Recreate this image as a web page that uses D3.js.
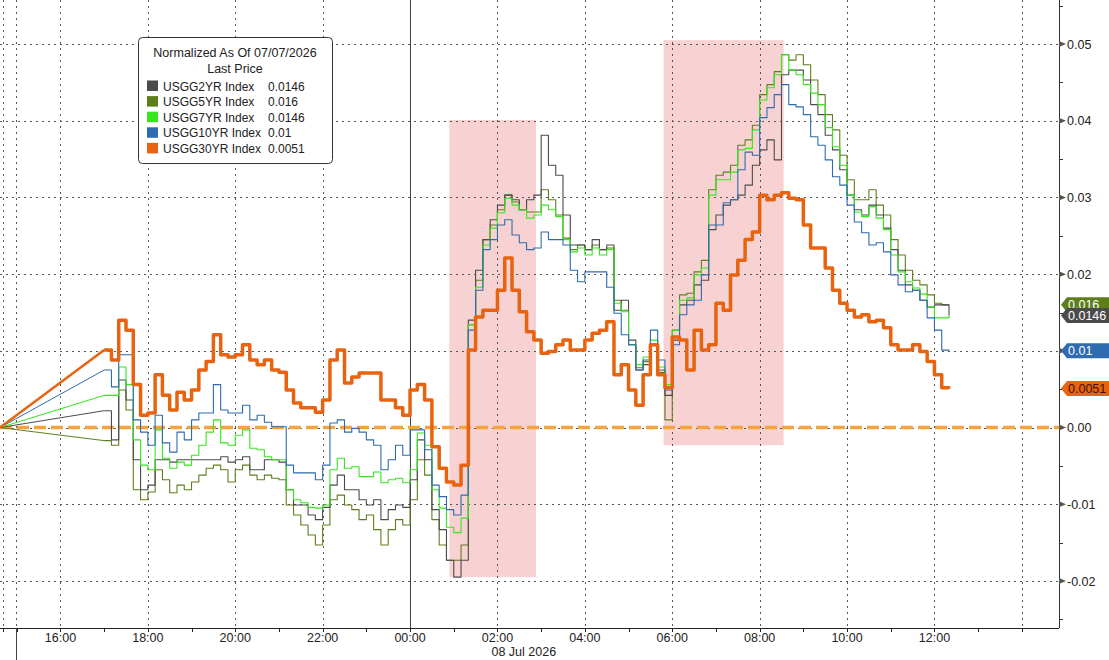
<!DOCTYPE html>
<html>
<head>
<meta charset="utf-8">
<style>
  body { margin: 0; background: #fff; }
  text { font-family: "Liberation Sans", Arial, sans-serif; }
</style>
</head>
<body>
<script src="https://d3js.org/d3.v7.min.js"></script>
<script>
// ---- DATA (normalized yield change vs 07/07/2026 close) ----
// one value every 10 minutes from 17:00 on 07 Jul to 12:20 on 08 Jul
const startTime = new Date(2026, 6, 7, 17, 0);
const stepMinutes = 10;
const anchorTime = new Date(2026, 6, 7, 14, 37); // normalization point, value 0

const usgg2 = [0.0022,-0.0016,0.0062,0.0036,-0.0042,-0.0081,-0.0075,-0.0042,-0.0042,-0.0045,
  -0.0042,-0.0042,-0.0042,-0.0042,-0.0042,-0.0042,-0.0038,-0.0045,-0.0042,-0.0038,
  -0.0055,-0.0055,-0.0042,-0.0042,-0.0045,-0.0081,-0.0101,-0.0101,-0.0114,-0.0120,
  -0.0104,-0.0075,-0.0062,-0.0081,-0.0081,-0.0094,-0.0101,-0.0094,-0.0120,-0.0107,
  -0.0101,-0.0104,-0.0068,-0.0016,-0.0042,-0.0107,-0.0133,-0.0173,-0.0195,-0.0173,
  0.0140,0.0205,0.0245,0.0271,0.0290,0.0303,0.0297,0.0284,0.0297,0.0303,
  0.0381,0.0342,0.0329,0.0277,0.0238,0.0238,0.0232,0.0245,0.0232,0.0238,
  0.0153,0.0166,0.0114,0.0075,0.0082,0.0108,0.0075,0.0042,0.0114,0.0160,
  0.0166,0.0186,0.0192,0.0258,0.0277,0.0290,0.0297,0.0303,0.0316,0.0342,
  0.0362,0.0375,0.0349,0.0460,0.0466,0.0466,0.0453,0.0421,0.0408,0.0381,
  0.0362,0.0336,0.0303,0.0284,0.0277,0.0290,0.0277,0.0260,0.0232,0.0205,
  0.0186,0.0179,0.0166,0.0157,0.0160,0.0160,0.0146];

const usgg5 = [-0.0017,-0.0023,0.0049,0.0023,-0.0081,-0.0094,-0.0084,-0.0055,-0.0068,-0.0085,
  -0.0075,-0.0081,-0.0071,-0.0062,-0.0053,-0.0049,-0.0055,-0.0071,-0.0055,-0.0049,
  -0.0062,-0.0068,-0.0062,-0.0066,-0.0068,-0.0101,-0.0114,-0.0127,-0.0140,-0.0153,
  -0.0127,-0.0094,-0.0088,-0.0101,-0.0107,-0.0120,-0.0114,-0.0133,-0.0153,-0.0133,
  -0.0120,-0.0127,-0.0094,-0.0042,-0.0062,-0.0120,-0.0153,-0.0173,-0.0173,-0.0153,
  0.0134,0.0192,0.0245,0.0264,0.0284,0.0303,0.0294,0.0284,0.0281,0.0281,
  0.0310,0.0297,0.0277,0.0247,0.0232,0.0238,0.0232,0.0238,0.0232,0.0234,
  0.0166,0.0153,0.0108,0.0078,0.0086,0.0108,0.0072,0.0010,0.0127,0.0173,
  0.0175,0.0203,0.0218,0.0310,0.0329,0.0333,0.0342,0.0368,0.0375,0.0394,
  0.0434,0.0447,0.0464,0.0486,0.0479,0.0486,0.0473,0.0453,0.0434,0.0408,
  0.0388,0.0355,0.0323,0.0297,0.0297,0.0310,0.0290,0.0277,0.0245,0.0225,
  0.0205,0.0192,0.0186,0.0173,0.0162,0.0160,0.0160];

const usgg7 = [0.0042,0.0042,0.0079,0.0056,-0.0016,-0.0049,-0.0055,-0.0003,-0.0040,-0.0053,
  -0.0045,-0.0049,-0.0036,-0.0023,-0.0006,0.0010,-0.0020,-0.0023,-0.0010,-0.0003,
  -0.0027,-0.0029,-0.0038,-0.0042,-0.0042,-0.0081,-0.0094,-0.0098,-0.0104,-0.0105,
  -0.0101,-0.0055,-0.0040,-0.0053,-0.0051,-0.0064,-0.0064,-0.0058,-0.0072,-0.0068,
  -0.0066,-0.0072,-0.0055,-0.0007,-0.0023,-0.0081,-0.0105,-0.0130,-0.0137,-0.0118,
  0.0134,0.0183,0.0238,0.0260,0.0280,0.0299,0.0290,0.0284,0.0273,0.0277,
  0.0290,0.0284,0.0275,0.0245,0.0229,0.0234,0.0225,0.0234,0.0225,0.0232,
  0.0162,0.0151,0.0108,0.0082,0.0092,0.0114,0.0079,0.0056,0.0127,0.0166,
  0.0169,0.0199,0.0208,0.0303,0.0323,0.0323,0.0333,0.0362,0.0364,0.0388,
  0.0427,0.0443,0.0460,0.0486,0.0466,0.0460,0.0447,0.0436,0.0421,0.0391,
  0.0366,0.0342,0.0303,0.0281,0.0275,0.0288,0.0273,0.0258,0.0225,0.0203,
  0.0190,0.0182,0.0174,0.0157,0.0143,0.0143,0.0146];

const usgg10 = [0.0075,0.0053,0.0095,0.0095,0.0010,-0.0006,-0.0023,0.0016,-0.0020,-0.0032,
  -0.0006,-0.0016,0.0010,0.0019,0.0019,0.0056,0.0023,0.0019,0.0019,0.0029,
  0.0010,0.0016,0.0007,0.0001,0.0001,-0.0049,-0.0059,-0.0059,-0.0059,-0.0068,
  -0.0049,0.0006,0.0010,-0.0006,-0.0001,-0.0006,-0.0016,-0.0023,-0.0055,-0.0042,
  -0.0023,-0.0036,-0.0003,-0.0003,-0.0029,-0.0075,-0.0090,-0.0107,-0.0114,-0.0088,
  0.0127,0.0179,0.0232,0.0245,0.0264,0.0271,0.0251,0.0241,0.0232,0.0234,
  0.0255,0.0245,0.0245,0.0238,0.0205,0.0190,0.0203,0.0203,0.0203,0.0183,
  0.0149,0.0121,0.0108,0.0075,0.0088,0.0127,0.0088,0.0049,0.0108,0.0147,
  0.0160,0.0166,0.0199,0.0264,0.0264,0.0293,0.0297,0.0336,0.0359,0.0355,
  0.0404,0.0417,0.0434,0.0447,0.0421,0.0418,0.0408,0.0379,0.0368,0.0349,
  0.0327,0.0316,0.0290,0.0268,0.0254,0.0238,0.0241,0.0229,0.0199,0.0186,
  0.0177,0.0179,0.0166,0.0143,0.0127,0.0101,0.0100];

const usgg30 = [0.0101,0.0088,0.0140,0.0127,0.0056,0.0016,0.0019,0.0069,0.0042,0.0023,
  0.0046,0.0036,0.0049,0.0075,0.0086,0.0121,0.0095,0.0092,0.0095,0.0108,
  0.0088,0.0082,0.0088,0.0075,0.0072,0.0049,0.0032,0.0026,0.0026,0.0020,
  0.0036,0.0088,0.0101,0.0058,0.0066,0.0071,0.0071,0.0071,0.0036,0.0036,
  0.0026,0.0016,0.0049,0.0056,0.0036,-0.0025,-0.0053,-0.0071,-0.0075,-0.0049,
  0.0101,0.0144,0.0153,0.0153,0.0179,0.0221,0.0179,0.0151,0.0125,0.0114,
  0.0097,0.0099,0.0108,0.0114,0.0101,0.0101,0.0114,0.0123,0.0127,0.0138,
  0.0069,0.0082,0.0049,0.0029,0.0069,0.0108,0.0069,0.0052,0.0118,0.0114,
  0.0075,0.0127,0.0101,0.0108,0.0162,0.0153,0.0199,0.0218,0.0245,0.0255,
  0.0303,0.0297,0.0303,0.0306,0.0299,0.0297,0.0264,0.0234,0.0234,0.0208,
  0.0179,0.0162,0.0153,0.0144,0.0147,0.0138,0.0140,0.0130,0.0108,0.0101,
  0.0101,0.0108,0.0099,0.0086,0.0069,0.0052,0.0051];

const seriesNames = ["USGG2YR Index", "USGG5YR Index", "USGG7YR Index", "USGG10YR Index", "USGG30YR Index"];
const lastPrices = ["0.0146", "0.016", "0.0146", "0.01", "0.0051"];
const seriesColors = ["#4b4b4b", "#5d7f1b", "#36e61f", "#2e6bb1", "#e8630f"];

const yTicks = [-0.02, -0.01, 0, 0.01, 0.02, 0.03, 0.04, 0.05];
const yTickLabels = ["-0.02", "-0.01", "0.00", "0.01", "0.02", "0.03", "0.04", "0.05"];
const yMinorTicks = [-0.025, -0.015, -0.005, 0.005, 0.015, 0.025, 0.035, 0.045, 0.055];

// shaded windows: [start, end, low, high]
const shades = [
  [new Date(2026, 6, 8, 0, 54), new Date(2026, 6, 8, 2, 53), -0.0195, 0.0401],
  [new Date(2026, 6, 8, 5, 48), new Date(2026, 6, 8, 8, 33), -0.0023, 0.0505]
];

// ---- CHART ----
const W = 1109, H = 660;
const plotRight = 1059, plotBottom = 628;

const svg = d3.select("body").append("svg").attr("width", W).attr("height", H);

const x = d3.scaleTime()
  .domain([new Date(2026, 6, 7, 14, 37), new Date(2026, 6, 8, 14, 51)])
  .range([0, plotRight]);
const y = d3.scaleLinear().domain([-0.02, 0.05]).range([581, 44]);

const times = usgg2.map((d, i) => d3.timeMinute.offset(startTime, i * stepMinutes));

// shading
svg.append("g").selectAll("rect").data(shades).enter().append("rect")
  .attr("x", d => x(d[0]))
  .attr("width", d => x(d[1]) - x(d[0]))
  .attr("y", d => y(d[3]))
  .attr("height", d => y(d[2]) - y(d[3]))
  .attr("fill", "#f8d2d2");

// gridlines
const grid = svg.append("g").attr("stroke", "#555").attr("stroke-width", 1).attr("stroke-dasharray", "2,4");
grid.selectAll("line.h").data(yTicks).enter().append("line")
  .attr("x1", 0).attr("x2", plotRight)
  .attr("y1", d => Math.round(y(d)) + 0.5).attr("y2", d => Math.round(y(d)) + 0.5);

const evenHours = d3.timeHour.every(2).range(new Date(2026, 6, 7, 16), new Date(2026, 6, 8, 14, 30));
grid.selectAll("line.v").data(evenHours.filter(d => d.getHours() !== 0)).enter().append("line")
  .attr("x1", d => Math.round(x(d)) + 0.5).attr("x2", d => Math.round(x(d)) + 0.5)
  .attr("y1", 0).attr("y2", plotBottom);
grid.append("line").attr("x1", 3.5).attr("x2", 3.5).attr("y1", 0).attr("y2", plotBottom);
grid.append("line").attr("x1", 16.5).attr("x2", 16.5).attr("y1", 0).attr("y2", plotBottom);

// day divider
const midnight = new Date(2026, 6, 8, 0, 0);
svg.append("line")
  .attr("x1", Math.round(x(midnight)) + 0.5).attr("x2", Math.round(x(midnight)) + 0.5)
  .attr("y1", 0).attr("y2", plotBottom)
  .attr("stroke", "#444").attr("stroke-width", 1);
svg.append("line")
  .attr("x1", 16.5).attr("x2", 16.5).attr("y1", plotBottom).attr("y2", H)
  .attr("stroke", "#444").attr("stroke-width", 1);

// zero reference line
svg.append("line")
  .attr("x1", 0).attr("x2", plotRight)
  .attr("y1", y(0)).attr("y2", y(0))
  .attr("stroke", "#f4a43c").attr("stroke-width", 3.5)
  .attr("stroke-dasharray", "12,5");

// series
const allSeries = [usgg2, usgg5, usgg7, usgg10, usgg30];
const drawOrder = [1, 0, 2, 3, 4];

const stepLine = d3.line().x(d => x(d.t)).y(d => y(d.v)).curve(d3.curveStepAfter);
const straight = d3.line().x(d => x(d.t)).y(d => y(d.v));

drawOrder.forEach(k => {
  const vals = allSeries[k];
  const pts = vals.map((v, i) => ({ t: times[i], v: v }));
  const w = k === 4 ? 3.5 : 1.1;
  svg.append("path")
    .datum([{ t: anchorTime, v: 0 }, pts[0]])
    .attr("d", straight)
    .attr("fill", "none").attr("stroke", seriesColors[k]).attr("stroke-width", k === 4 ? 2.5 : 1);
  svg.append("path")
    .datum(pts)
    .attr("d", stepLine)
    .attr("fill", "none")
    .attr("stroke", seriesColors[k])
    .attr("stroke-width", w)
    .attr("stroke-linejoin", "round");
});

// x axis
svg.append("line").attr("x1", 0).attr("x2", plotRight)
  .attr("y1", plotBottom + 0.5).attr("y2", plotBottom + 0.5)
  .attr("stroke", "#222");
const allHours = d3.timeHour.every(1).range(new Date(2026, 6, 7, 15), new Date(2026, 6, 8, 14, 30));
svg.append("g").selectAll("line").data(allHours).enter().append("line")
  .attr("x1", d => Math.round(x(d)) + 0.5).attr("x2", d => Math.round(x(d)) + 0.5)
  .attr("y1", plotBottom).attr("y2", plotBottom + 4)
  .attr("stroke", "#222");
svg.append("line").attr("x1", 3.5).attr("x2", 3.5).attr("y1", plotBottom).attr("y2", plotBottom + 4).attr("stroke", "#222");

const fmt = d3.timeFormat("%H:%M");
svg.append("g").selectAll("text").data(evenHours.filter(d => d < new Date(2026, 6, 8, 13))).enter().append("text")
  .attr("x", d => x(d)).attr("y", 642)
  .attr("text-anchor", "middle").attr("font-size", 12.5).attr("fill", "#222")
  .text(d => fmt(d));
svg.append("text")
  .attr("x", x(new Date(2026, 6, 8, 2, 0)) - 6).attr("y", 656)
  .attr("font-size", 12.5).attr("fill", "#222")
  .text("08 Jul 2026");

// y axis (right)
svg.append("line").attr("x1", plotRight + 0.5).attr("x2", plotRight + 0.5)
  .attr("y1", 0).attr("y2", plotBottom).attr("stroke", "#333");
svg.append("g").selectAll("line").data(yMinorTicks).enter().append("line")
  .attr("x1", plotRight).attr("x2", plotRight + 4)
  .attr("y1", d => Math.round(y(d)) + 0.5).attr("y2", d => Math.round(y(d)) + 0.5)
  .attr("stroke", "#333");
svg.append("g").selectAll("path").data(yTicks).enter().append("path")
  .attr("d", d => {
    const yy = y(d);
    return `M${plotRight},${yy - 3}L${plotRight + 7},${yy}L${plotRight},${yy + 3}Z`;
  })
  .attr("fill", "#555");
svg.append("g").selectAll("text").data(yTicks).enter().append("text")
  .attr("x", plotRight + 8).attr("y", d => y(d) + 4.5)
  .attr("font-size", 12.5).attr("fill", "#222")
  .text((d, i) => yTickLabels[i]);

// last value tags (the 7YR tag sits fully under the 2YR one, so only these show)
const tagOrder = [1, 0, 3, 4];
tagOrder.forEach(k => {
  const cy = y(+lastPrices[k]);
  const g = svg.append("g");
  g.append("path")
    .attr("d", `M${plotRight + 2},${cy}L${plotRight + 8},${cy - 7.5}L${W},${cy - 7.5}L${W},${cy + 7.5}L${plotRight + 8},${cy + 7.5}Z`)
    .attr("fill", seriesColors[k]);
  g.append("text")
    .attr("x", plotRight + 9).attr("y", cy + 4.5)
    .attr("font-size", 12.5)
    .attr("fill", k === 4 ? "#3a1200" : "#fff")
    .text(lastPrices[k]);
});

// legend
const lg = svg.append("g").attr("transform", "translate(138,37)");
lg.append("rect").attr("x", 0.5).attr("y", 0.5).attr("width", 194).attr("height", 126)
  .attr("rx", 4).attr("fill", "#fff").attr("stroke", "#333");
lg.append("text").attr("x", 97).attr("y", 20).attr("text-anchor", "middle")
  .attr("font-size", 12.5).attr("fill", "#222").text("Normalized As Of 07/07/2026");
lg.append("text").attr("x", 97).attr("y", 36).attr("text-anchor", "middle")
  .attr("font-size", 12.5).attr("fill", "#222").text("Last Price");
seriesNames.forEach((name, i) => {
  const ry = 49 + i * 15.6;
  lg.append("rect").attr("x", 9).attr("y", ry - 5.5).attr("width", 11).attr("height", 10.5)
    .attr("fill", seriesColors[i]);
  lg.append("text").attr("x", 25).attr("y", ry + 4.5).attr("font-size", 12).attr("fill", "#222").text(name);
  lg.append("text").attr("x", 130).attr("y", ry + 4.5).attr("font-size", 12).attr("fill", "#222").text(lastPrices[i]);
});
</script>
</body>
</html>
